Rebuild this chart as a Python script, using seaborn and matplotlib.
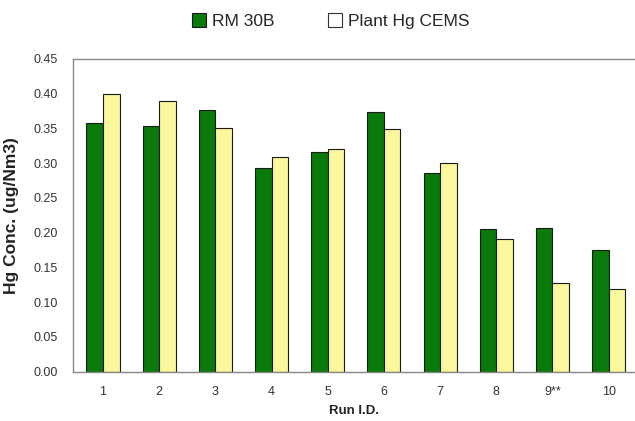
import matplotlib
matplotlib.use("Agg")
import matplotlib.pyplot as plt
import seaborn as sns
import pandas as pd
from matplotlib.lines import Line2D

runs = ["1", "2", "3", "4", "5", "6", "7", "8", "9**", "10"]
rm30b = [0.358, 0.354, 0.377, 0.293, 0.316, 0.374, 0.286, 0.206, 0.207, 0.175]
cems = [0.400, 0.390, 0.351, 0.309, 0.321, 0.349, 0.300, 0.191, 0.127, 0.119]
series = ["RM 30B", "Plant Hg CEMS"]
colors = ["#0a7a0a", "#fbf79c"]

df = pd.DataFrame({
    "run": runs * 2,
    "value": rm30b + cems,
    "series": [series[0]] * len(runs) + [series[1]] * len(runs),
})

sns.set_style("white")
plt.rcParams["font.family"] = ["Liberation Sans", "DejaVu Sans"]

fig = plt.figure(figsize=(6.35, 4.21), dpi=100)
ax = fig.add_axes([0.115, 0.117, 0.885, 0.743])

sns.barplot(data=df, x="run", y="value", hue="series", palette=colors,
            order=runs, hue_order=series, width=0.59, ax=ax,
            edgecolor="#1a1a1a", linewidth=0.8, legend=False, saturation=1)

ax.set_ylim(0, 0.45)
ax.set_xlim(-0.534, 9.47)
ax.set_yticks([i * 0.05 for i in range(10)])
ax.set_yticklabels([f"{i*0.05:.2f}" for i in range(10)], color="#333333", fontsize=9)
ax.tick_params(axis="x", labelsize=9, labelcolor="#333333", length=0, pad=10)
ax.tick_params(axis="y", length=0, pad=11)
ax.set_xlabel("Run I.D.", fontsize=9.5, fontweight="bold", color="#222222", labelpad=5)
ax.set_ylabel("Hg Conc. (ug/Nm3)", fontsize=12.5, fontweight="bold", color="#222222")
ax.yaxis.set_label_coords(-0.097, 0.5)

for s in ["left", "bottom", "top"]:
    ax.spines[s].set_color("#888888")
    ax.spines[s].set_linewidth(1.0)
ax.spines["right"].set_visible(False)

handles = [
    Line2D([], [], marker="s", linestyle="none", markersize=9.5,
           markerfacecolor=colors[0], markeredgecolor="#1a1a1a", markeredgewidth=0.8),
    Line2D([], [], marker="s", linestyle="none", markersize=9.5,
           markerfacecolor="white", markeredgecolor="#333333", markeredgewidth=0.8),
]
fig.legend(handles, series, loc="center", bbox_to_anchor=(0.52, 0.95), ncol=2,
           frameon=False, fontsize=12.5, handletextpad=0.25, columnspacing=3.0,
           handlelength=1.0)

fig.savefig("out.png", dpi=100)
